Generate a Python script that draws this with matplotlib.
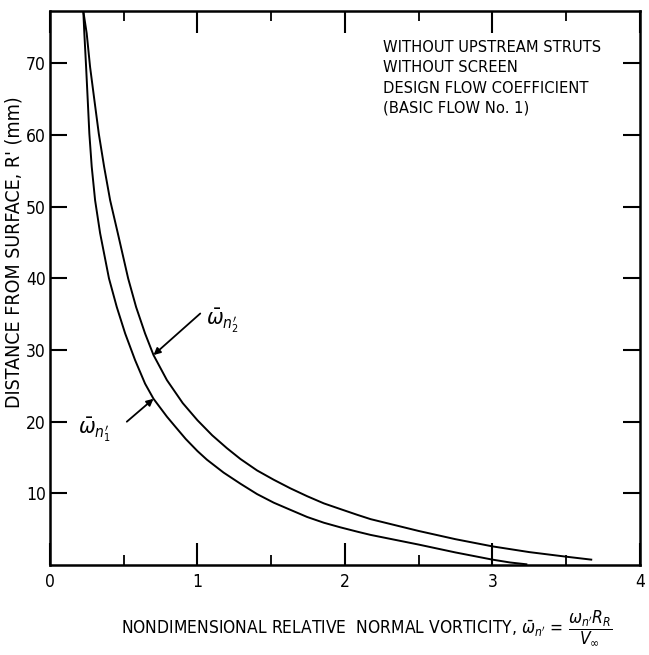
import matplotlib
matplotlib.use('Agg')
import matplotlib.pyplot as plt
from matplotlib.ticker import MultipleLocator

plt.rcParams['font.family'] = ['DejaVu Sans']
plt.rcParams['font.stretch'] = 'condensed'
plt.rcParams['mathtext.fontset'] = 'dejavusans'

# distance from surface R' (mm) vs nondimensional vorticity
r1 = [77.3, 74.2, 69.5, 64.9, 60.2, 55.6, 50.9, 46.3, 40.0, 36.0, 32.3, 28.6, 25.3, 23.2,
      20.7, 19.3, 17.6, 15.9, 14.7, 12.9, 11.35, 9.9, 8.7, 7.7, 6.7, 5.9, 5.25, 4.65, 4.2,
      2.85, 1.75, 0.75, 0.35, 0.1]
w1 = [0.226, 0.233, 0.245, 0.256, 0.267, 0.283, 0.306, 0.340, 0.400, 0.453, 0.510, 0.577, 0.645, 0.702,
      0.793, 0.85, 0.92, 1.0, 1.064, 1.177, 1.291, 1.404, 1.517, 1.630, 1.744, 1.857, 1.970, 2.084, 2.174,
      2.5, 2.75, 3.0, 3.12, 3.23]

r2 = [77.3, 74.2, 69.5, 64.9, 60.2, 55.6, 50.9, 46.3, 40.0, 36.0, 32.3, 29.3, 25.8, 22.6,
      20.2, 18.1, 16.3, 14.8, 13.2, 11.9, 10.7, 9.6, 8.6, 7.8, 7.0, 6.4,
      4.75, 3.6, 2.6, 1.8, 1.16, 0.75]
w2 = [0.226, 0.249, 0.272, 0.301, 0.331, 0.367, 0.408, 0.460, 0.530, 0.584, 0.645, 0.702, 0.793, 0.90,
      1.0, 1.1, 1.2, 1.291, 1.404, 1.517, 1.630, 1.744, 1.857, 1.970, 2.084, 2.174,
      2.5, 2.75, 3.0, 3.25, 3.5, 3.67]

note_lines = ['WITHOUT UPSTREAM STRUTS', 'WITHOUT SCREEN',
              'DESIGN FLOW COEFFICIENT', '(BASIC FLOW No. 1)']

fig = plt.figure(figsize=(6.49, 6.55), dpi=100)
ax = fig.add_axes([0.077, 0.1374, 0.909, 0.8456])

ax.plot(w1, r1, color='black', lw=1.4)
ax.plot(w2, r2, color='black', lw=1.4)

ax.set_xlim(0, 4)
ax.set_ylim(0, 77.3)

ax.xaxis.set_minor_locator(MultipleLocator(0.5))
ax.set_yticks([10, 20, 30, 40, 50, 60, 70])
ax.set_xticks([0, 1, 2, 3, 4])
ax.set_xticklabels(['0', '1', '2', '3', '4'])

ax.tick_params(axis='both', which='major', direction='in', top=True, right=True,
               width=1.5, labelsize=12.5)
ax.tick_params(axis='x', which='major', length=16, pad=6)
ax.tick_params(axis='y', which='major', length=12, pad=3)
ax.tick_params(axis='x', which='minor', direction='in', top=True, length=7, width=1.3)
for s in ax.spines.values():
    s.set_linewidth(1.8)

# curve labels with arrows
ax.annotate('', xy=(0.702, 29.3), xytext=(1.019, 35.1),
            arrowprops=dict(arrowstyle='-|>', color='black', lw=1.3,
                            mutation_scale=10, shrinkA=0, shrinkB=0))
ax.text(1.06, 34.0, r'$\bar{\omega}_{n_2^{\prime}}$', fontsize=16, va='center', ha='left')

ax.annotate('', xy=(0.702, 23.2), xytext=(0.521, 20.0),
            arrowprops=dict(arrowstyle='-|>', color='black', lw=1.3,
                            mutation_scale=10, shrinkA=0, shrinkB=0))
ax.text(0.19, 18.8, r'$\bar{\omega}_{n_1^{\prime}}$', fontsize=16, va='center', ha='left')

ax.text(2.255, 73.3, '\n'.join(note_lines), fontsize=11.8, va='top', ha='left',
        linespacing=1.45)

fig.text(0.021, 0.615, "DISTANCE FROM SURFACE, R' (mm)", rotation=90,
         fontsize=14, ha='center', va='center')
fig.text(0.566, 0.04,
         r"NONDIMENSIONAL RELATIVE  NORMAL VORTICITY, $\bar{\omega}_{n'}$ = $\dfrac{\omega_{n'}R_R}{V_\infty}$",
         fontsize=12.5, ha='center', va='center')

plt.savefig('out.png', dpi=100)
plt.close()
